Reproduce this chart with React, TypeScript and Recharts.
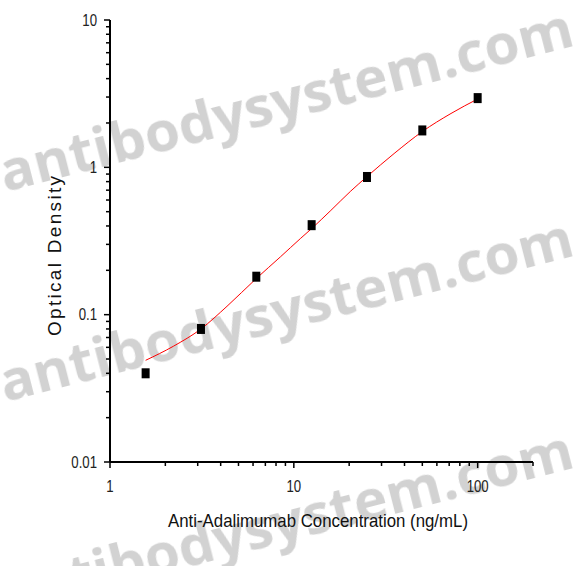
import React from "react";
import { ComposedChart, XAxis, YAxis, Scatter, Line } from "recharts";

// Measured standards
const concentrations = [1.5625, 3.125, 6.25, 12.5, 25, 50, 100];
const odValues = [0.04, 0.08, 0.181, 0.405, 0.86, 1.78, 2.95];

// Fitted curve
const curveX = [1.5625, 2.21, 3.125, 4.33, 6.25, 8.46, 10.9, 12.5, 15.9, 20.4, 25, 35.1, 50, 71.6, 100];
const curveY = [0.049, 0.061, 0.08, 0.114, 0.176, 0.247, 0.33, 0.384, 0.51, 0.69, 0.865, 1.24, 1.75, 2.32, 2.91];

// Axis ticks
const xTicks = [1, 2, 3, 4, 5, 6, 7, 8, 9, 10, 20, 30, 40, 50, 60, 70, 80, 90, 100, 200];
const xLabeled = [1, 10, 100];
const yTicks = [
  0.01, 0.02, 0.03, 0.04, 0.05, 0.06, 0.07, 0.08, 0.09,
  0.1, 0.2, 0.3, 0.4, 0.5, 0.6, 0.7, 0.8, 0.9,
  1, 2, 3, 4, 5, 6, 7, 8, 9, 10,
];
const yLabeled = [0.01, 0.1, 1, 10];

const xTitle = "Anti-Adalimumab Concentration (ng/mL)";
const yTitle = "Optical Density";
const watermark = "antibodysystem.com";

const points = concentrations.map((x, i) => ({ x, y: odValues[i] }));
const curve = curveX.map((x, i) => ({ x, y: curveY[i] }));

const sans = "'Liberation Sans', Arial, sans-serif";

const XTick = (props: any) => {
  const { x, y, payload } = props;
  const v = payload.value;
  const major = xLabeled.includes(v);
  return (
    <g>
      <line x1={x} y1={y} x2={x} y2={y + (major ? 6 : 4)} stroke="#000" strokeWidth={1.5} />
      {major && (
        <g transform={`translate(${x} ${y + 30}) scale(0.88 1.05)`}>
          <text x={0} y={0} textAnchor="middle" fontFamily={sans} fontSize={15} fill="#222">
            {String(v)}
          </text>
        </g>
      )}
    </g>
  );
};

const YTick = (props: any) => {
  const { x, y, payload } = props;
  const v = payload.value;
  const major = yLabeled.includes(v);
  return (
    <g>
      <line x1={x} y1={y} x2={x - (major ? 6 : 4)} y2={y} stroke="#000" strokeWidth={1.5} />
      {major && (
        <g transform={`translate(${x - 13} ${y}) scale(0.88 1.05)`}>
          <text x={0} y={0} dy="0.36em" textAnchor="end" fontFamily={sans} fontSize={15} fill="#222">
            {String(v)}
          </text>
        </g>
      )}
    </g>
  );
};

const Marker = (props: any) => {
  const { cx, cy } = props;
  if (cx == null || cy == null) return null;
  return <rect x={cx - 4} y={cy - 5} width={8} height={10} fill="#000" />;
};

const wmLines = [
  { x: 5, y: 192 },
  { x: 5, y: 402 },
  { x: 5, y: 614 },
];

export default function App() {
  return (
    <div style={{ position: "absolute", left: 0, top: 0, width: 585, height: 566, background: "#fff", overflow: "hidden" }}>
      <svg width={585} height={566} style={{ position: "absolute", left: 0, top: 0 }}>
        <defs>
          <filter id="wmblur">
            <feGaussianBlur stdDeviation={0.7} />
          </filter>
        </defs>
        {wmLines.map((p, i) => (
          <text
            key={i}
            x={p.x}
            y={p.y}
            transform={`rotate(-14.4 ${p.x} ${p.y})`}
            fontFamily="'Open Sans', 'DejaVu Sans', sans-serif"
            fontWeight={700}
            fontSize={56}
            fill="#d2d2d2"
            textLength={590}
            lengthAdjust="spacingAndGlyphs"
            filter="url(#wmblur)"
          >
            {watermark}
          </text>
        ))}
      </svg>
      <div style={{ position: "absolute", left: 0, top: 0 }}>
        <ComposedChart width={585} height={566} margin={{ top: 20, right: 52, bottom: 64, left: 50 }}>
          <XAxis
            dataKey="x"
            type="number"
            scale="log"
            domain={[1, 200]}
            ticks={xTicks}
            interval={0}
            allowDataOverflow
            height={40}
            tickSize={0}
            tickMargin={0}
            tickLine={false}
            tick={<XTick />}
            axisLine={{ stroke: "#000", strokeWidth: 2 }}
          />
          <YAxis
            dataKey="y"
            type="number"
            scale="log"
            domain={[0.01, 10]}
            ticks={yTicks}
            interval={0}
            allowDataOverflow
            width={60}
            tickSize={0}
            tickMargin={0}
            tickLine={false}
            tick={<YTick />}
            axisLine={{ stroke: "#000", strokeWidth: 2 }}
          />
          <Scatter data={points} dataKey="y" fill="#000" shape={<Marker />} isAnimationActive={false} />
          <Line
            data={curve}
            dataKey="y"
            type="monotone"
            stroke="#ff0000"
            strokeWidth={1}
            dot={false}
            activeDot={false}
            isAnimationActive={false}
          />
        </ComposedChart>
      </div>
      <svg width={585} height={566} style={{ position: "absolute", left: 0, top: 0, pointerEvents: "none" }}>
        <g transform="translate(318 527) scale(1 1.1)">
          <text
            x={0}
            y={0}
            textAnchor="middle"
            fontFamily={sans}
            fontSize={17}
            fill="#111"
            textLength={300}
            lengthAdjust="spacingAndGlyphs"
          >
            {xTitle}
          </text>
        </g>
        <text
          transform="translate(61 256) rotate(-90)"
          x={0}
          y={0}
          textAnchor="middle"
          fontFamily={sans}
          fontSize={19}
          fill="#111"
          textLength={160}
          lengthAdjust="spacing"
        >
          {yTitle}
        </text>
      </svg>
    </div>
  );
}
